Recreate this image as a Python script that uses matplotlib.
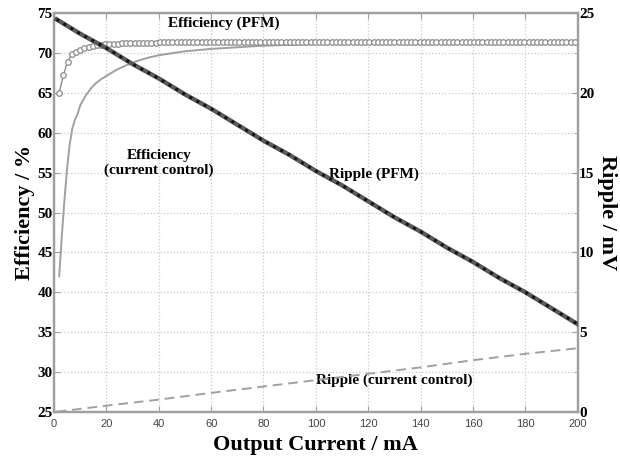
import numpy as np
import matplotlib
matplotlib.use('Agg')
import matplotlib.pyplot as plt
from matplotlib.ticker import MultipleLocator

# ---------------------------------------------------------------------------
# data
# ---------------------------------------------------------------------------
pfm_current = np.round(np.arange(2, 200.1, 1.6), 1)
pfm_eff = [65.0, 67.2, 68.9, 69.8, 70.1, 70.4, 70.55, 70.7, 70.85, 70.95,
           71.0, 71.05, 71.1, 71.12, 71.15, 71.2, 71.2, 71.2, 71.2, 71.2,
           71.25, 71.25, 71.25, 71.25, 71.3, 71.3, 71.3, 71.3, 71.3, 71.3,
           71.35, 71.35, 71.35, 71.35, 71.35, 71.35, 71.35, 71.35, 71.35, 71.35,
           71.4, 71.4, 71.4, 71.4, 71.4, 71.4, 71.4, 71.4, 71.4, 71.4,
           71.4, 71.4, 71.4, 71.4, 71.4, 71.4, 71.4, 71.4, 71.4, 71.4,
           71.4, 71.4, 71.4, 71.4, 71.4, 71.4, 71.4, 71.4, 71.4, 71.4,
           71.4, 71.4, 71.4, 71.4, 71.4, 71.4, 71.4, 71.4, 71.4, 71.4,
           71.4, 71.4, 71.4, 71.4, 71.4, 71.4, 71.4, 71.4, 71.4, 71.4,
           71.4, 71.4, 71.4, 71.4, 71.4, 71.4, 71.4, 71.4, 71.4, 71.4,
           71.4, 71.4, 71.4, 71.4, 71.4, 71.4, 71.4, 71.4, 71.4, 71.4,
           71.4, 71.4, 71.4, 71.4, 71.4, 71.4, 71.4, 71.4, 71.4, 71.4,
           71.4, 71.4, 71.4, 71.4]

cc_current = [2, 3, 4, 5, 6, 7, 8, 9, 10, 12, 14, 16, 18, 20, 24, 28, 32, 36,
              40, 50, 60, 70, 80, 90, 100, 120, 140, 160, 180, 200]
cc_eff = [42.0, 47.0, 51.5, 55.5, 58.5, 60.5, 61.6, 62.3, 63.4, 64.6, 65.5,
          66.2, 66.7, 67.1, 67.9, 68.5, 69.0, 69.4, 69.7, 70.2, 70.5, 70.7,
          70.9, 71.0, 71.1, 71.2, 71.25, 71.3, 71.3, 71.3]

rip_current = [1, 10, 20, 30, 40, 50, 60, 70, 80, 90, 100, 110, 120, 130,
               140, 150, 160, 170, 180, 190, 200]
rip_pfm = [24.6, 23.7, 22.8, 21.8, 20.9, 19.9, 19.0, 18.0, 17.0, 16.1, 15.1,
           14.2, 13.2, 12.2, 11.3, 10.3, 9.4, 8.4, 7.5, 6.5, 5.5]

ripcc_current = [1, 20, 40, 60, 80, 100, 120, 140, 160, 180, 200]
rip_cc = [0.02, 0.4, 0.78, 1.2, 1.6, 2.0, 2.4, 2.8, 3.25, 3.65, 4.0]

SERIF = 'Liberation Serif'
SANS = 'Liberation Sans'
SPINE = '#a0a0a0'

fig = plt.figure(figsize=(6.2, 4.63), dpi=100)
ax = fig.add_axes([0.087, 0.110, 0.845, 0.862])
ax2 = ax.twinx()

# efficiency curves on the left axis
ax.plot(cc_current, cc_eff, '-', color='#a0a0a0', lw=1.4, zorder=3)
ax.plot(pfm_current, pfm_eff, '-o', color='#8c8c8c', lw=1.0, ms=4.0,
        mfc='white', mec='#8c8c8c', mew=0.9, zorder=4)

# ripple curves on the right axis
ax2.plot(rip_current, rip_pfm, '-', color='#5a5a5a', lw=3.2, zorder=3)
ax2.plot(rip_current, rip_pfm, ':', color='#151515', lw=2.2, zorder=4)
ax2.plot(ripcc_current, rip_cc, '--', color='#a0a0a0', lw=1.4,
         dashes=(5, 3), zorder=3)

ax.set_xlim(0, 200)
ax.set_ylim(25, 75)
ax2.set_ylim(0, 25)
ax.xaxis.set_major_locator(MultipleLocator(20))
ax.yaxis.set_major_locator(MultipleLocator(5))
ax2.yaxis.set_major_locator(MultipleLocator(5))
ax2.yaxis.set_minor_locator(MultipleLocator(2.5))

ax.grid(True, ls=':', color='#c8c8c8', lw=0.9)
ax.set_axisbelow(True)

for a in (ax, ax2):
    for s in a.spines.values():
        s.set_color(SPINE)
        s.set_linewidth(1.6)
ax.tick_params(axis='both', direction='in', color=SPINE, length=4,
               top=True, right=False)
ax.tick_params(axis='x', pad=5)
ax2.tick_params(axis='y', which='both', direction='in', color=SPINE, length=4)
ax2.tick_params(axis='y', which='minor', length=3)

for lab in ax.get_yticklabels() + ax2.get_yticklabels():
    lab.set_fontfamily(SERIF)
    lab.set_fontweight('bold')
    lab.set_fontsize(11)
ax.tick_params(axis='y', pad=1)
ax2.tick_params(axis='y', pad=1)
for lab in ax.get_xticklabels():
    lab.set_fontfamily(SANS)
    lab.set_fontsize(8)
    lab.set_color('#444444')

ax.set_xlabel('Output Current / mA', fontfamily=SERIF, fontweight='bold',
              fontsize=16, labelpad=4)
ax.set_ylabel('Efficiency / %', fontfamily=SERIF, fontweight='bold',
              fontsize=16, labelpad=2)
ax2.set_ylabel('Ripple / mV', fontfamily=SERIF, fontweight='bold',
               fontsize=16, rotation=-90, labelpad=16)

txt = dict(fontfamily=SERIF, fontweight='bold', fontsize=11, ha='center',
           va='center')
ax.text(65, 73.7, 'Efficiency (PFM)', **txt)
ax.text(40, 56.2, 'Efficiency\n(current control)', linespacing=1.1, **txt)
ax.text(122, 54.8, 'Ripple (PFM)', **txt)
ax.text(130, 29.0, 'Ripple (current control)', **txt)

fig.savefig('out.png', dpi=100)
